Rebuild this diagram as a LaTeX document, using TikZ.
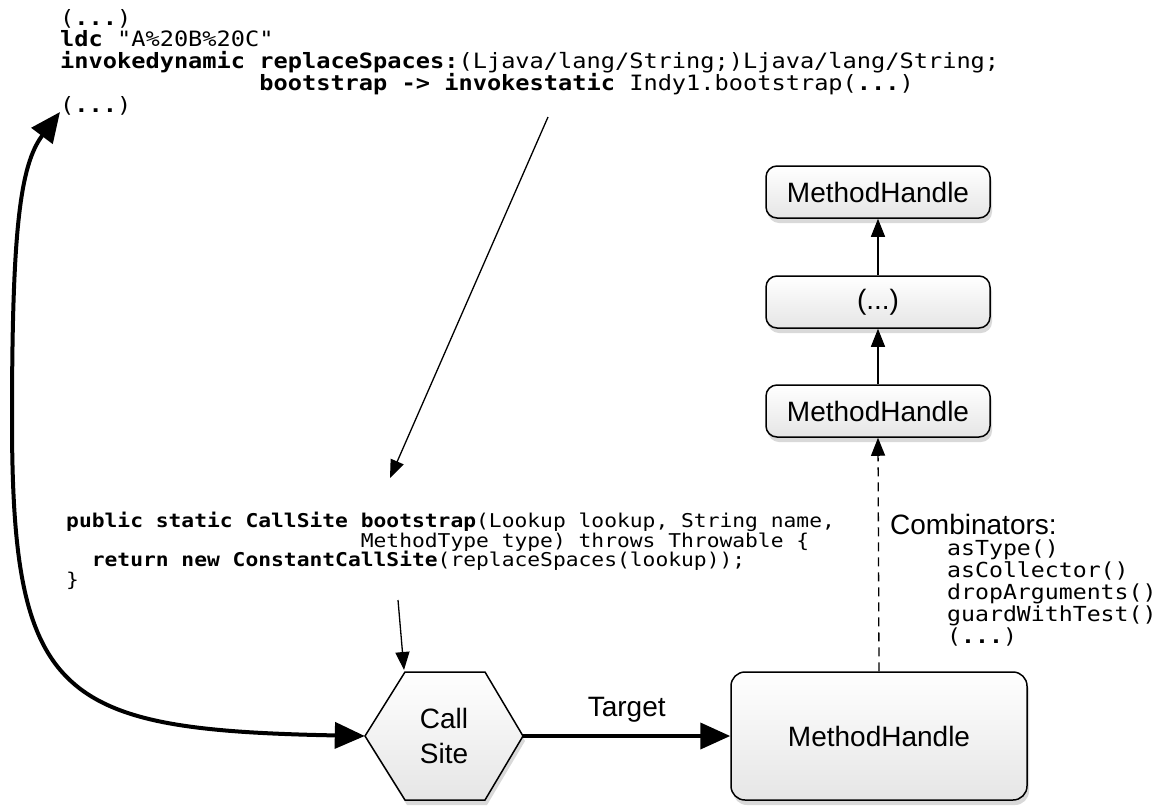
\documentclass[tikz,border=0pt]{standalone}
\usepackage{fontspec}
\setmainfont{Liberation Sans}
\newfontfamily\codefont[FakeStretch=1.12]{DejaVu Sans Mono}
\usepackage{tikz}
\usetikzlibrary{arrows.meta,shadows,positioning,calc}

\newcommand{\gap}[1]{\hspace*{#1\fontcharwd\font`M}}
\newcommand{\tightlines}{\lineskiplimit-30pt\relax}

\tikzset{
  handle/.style={draw, line width=1.5pt, rounded corners=11pt,
    top color=white, bottom color=black!10,
    drop shadow={opacity=0.3, shadow xshift=2pt, shadow yshift=-5pt},
    minimum width=224pt, minimum height=52pt, inner sep=0pt,
    font=\fontsize{28}{34}\selectfont},
  listing/.style={align=left, inner sep=0pt, anchor=north west},
  slim/.style={line width=1.3pt, -{Triangle[length=18pt,width=14pt]}},
  heavy/.style={line width=4pt, -{Triangle[length=30pt,width=26pt]}},
}

\begin{document}
\begin{tikzpicture}[x=1pt,y=-1pt]
  \useasboundingbox (0,0) rectangle (1161,809);

  % byte code of the caller
  \node[listing, font=\fontsize{21.1}{21.7}\selectfont\codefont\tightlines] (bytecode) at (60,9) {(\textbf{...})\\
    \textbf{ldc} "A\%20B\%20C"\\
    \textbf{invokedynamic replaceSpaces:}(Ljava/lang/String;)Ljava/lang/String;\\
    \gap{14}\textbf{bootstrap -> invokestatic} Indy1.bootstrap(\textbf{...})\\
    (\textbf{...})};

  % bootstrap method
  \node[listing, font=\fontsize{19}{19.5}\selectfont\codefont\tightlines] (bootcode) at (66,512) {\textbf{public static CallSite bootstrap}(Lookup lookup, String name,\\
    \gap{23}MethodType type) throws Throwable \{\\
    \gap{2}\textbf{return new ConstantCallSite}(replaceSpaces(lookup));\\
    \}};

  % method handle chain
  \node[handle] (mhtop) at (878,192) {MethodHandle};
  \node[handle] (mhdots) at (878,302) {(...)};
  \node[handle] (mhmid) at (878,411) {MethodHandle};
  \node[handle, minimum width=296pt, minimum height=128pt, rounded corners=14pt] (mhbig) at (879,736) {MethodHandle};

  \node[anchor=west, inner sep=0pt, font=\fontsize{28}{34}\selectfont] (combi) at (890,524) {Combinators:};
  \node[listing, font=\fontsize{20.7}{22}\selectfont\codefont\tightlines] (combilist) at (947,540) {asType()\\
    asCollector()\\
    dropArguments()\\
    guardWithTest()\\
    (\textbf{...})};

  % call site
  \coordinate (cc) at (444,736);
  \draw[line width=1.5pt, top color=white, bottom color=black!10,
    drop shadow={opacity=0.3, shadow xshift=2pt, shadow yshift=-5pt}]
    ($(cc)+(-79,0)$) -- ($(cc)+(-39,-64)$) -- ($(cc)+(41,-64)$) -- ($(cc)+(79,0)$)
    -- ($(cc)+(41,64)$) -- ($(cc)+(-39,64)$) -- cycle;
  \node[minimum width=158pt, minimum height=128pt, inner sep=0pt, align=center,
    font=\fontsize{28}{35}\selectfont] (cs) at (cc) {Call\\Site};

  % connectors
  \coordinate (idyn) at (60,112);
  \coordinate (bsfrom) at (548,117);
  \coordinate (bsto) at (390,478);
  \coordinate (ccsfrom) at (398,600);
  \coordinate (csnw) at ($(cc)+(-40,-66)$);

  \draw[slim] (bsfrom) -- (bsto);
  \draw[slim] (ccsfrom) -- (csnw);
  \draw[heavy] (cs.east) -- node[above=8pt, font=\fontsize{28}{34}\selectfont] (tgt) {Target} (mhbig.west);
  \draw[slim, dash pattern=on 9pt off 6pt] (mhbig.north) -- (mhmid.south);
  \draw[slim] (mhmid.north) -- (mhdots.south);
  \draw[slim] (mhdots.north) -- (mhtop.south);
  \draw[heavy, {Triangle[length=30pt,width=26pt]}-{Triangle[length=30pt,width=26pt]}]
    (idyn) .. controls (20,165) and (12,230) .. (12,420)
    .. controls (12,700) and (60,730) .. (cs.west);
\end{tikzpicture}
\end{document}
